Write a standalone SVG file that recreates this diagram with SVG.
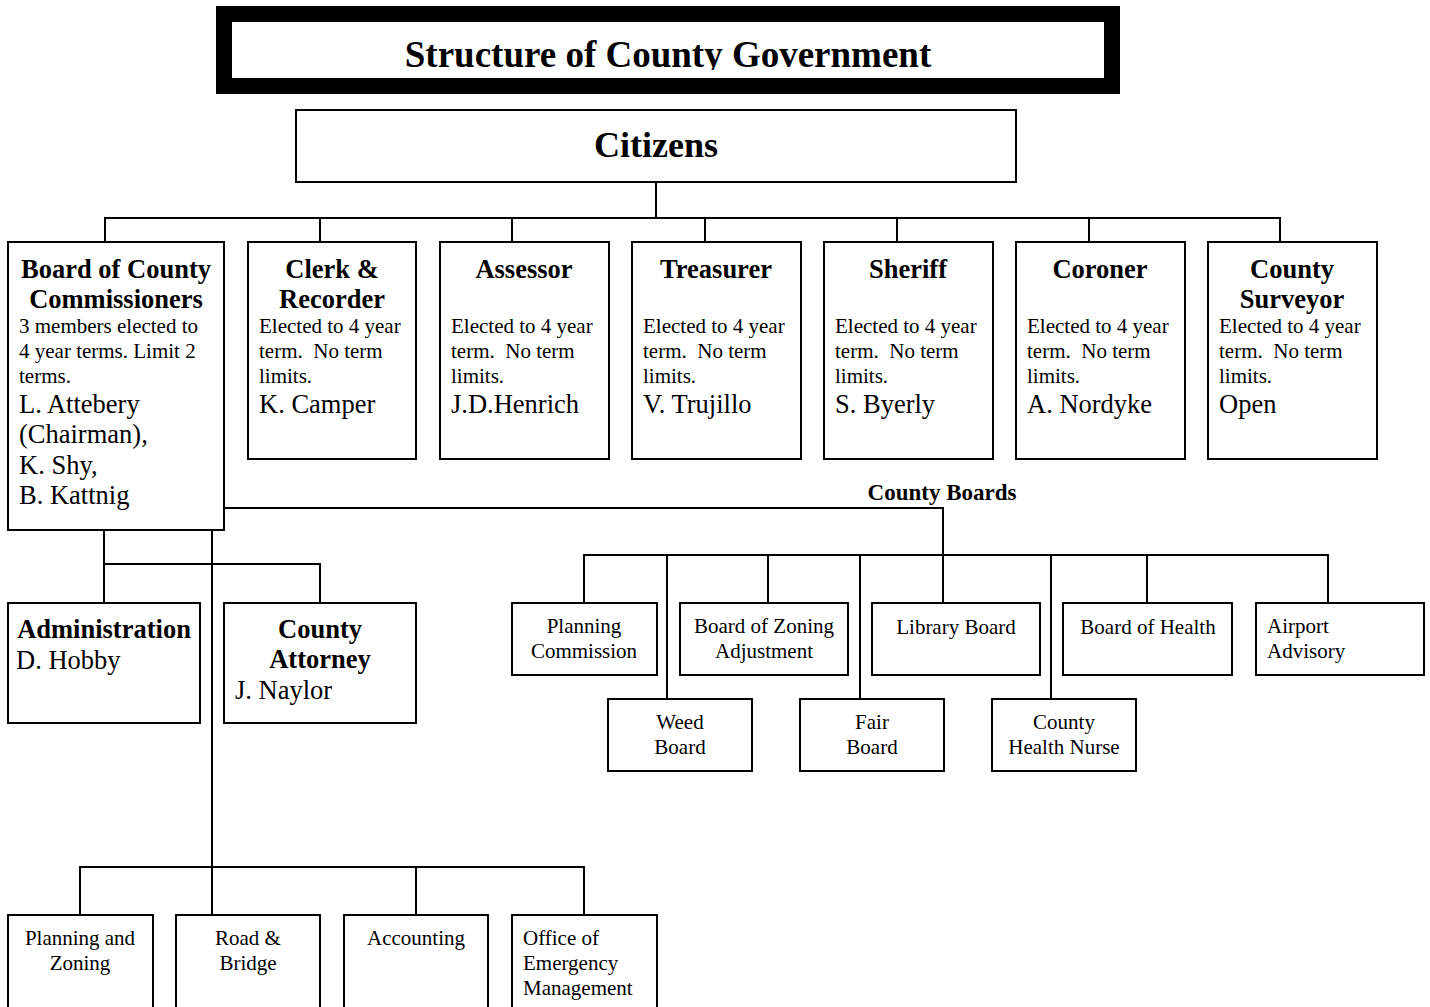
<svg xmlns="http://www.w3.org/2000/svg" width="1430" height="1007" viewBox="0 0 1430 1007">
<style>
.box{fill:#fff;stroke:#000;stroke-width:2}
.ln{fill:none;stroke:#000;stroke-width:2}
text{font-family:"Liberation Serif","Times New Roman",serif;fill:#000;white-space:pre}
.hb{font-weight:bold;font-size:26.5px;text-anchor:middle}
.sm{font-size:21px}
.nm{font-size:26.5px}
.c{text-anchor:middle}
</style>
<defs>
<clipPath id="tclip"><rect x="232" y="22" width="872" height="48"/></clipPath>
</defs>
<rect width="1430" height="1007" fill="#fff"/>
<g id="title">
<text x="668" y="67" clip-path="url(#tclip)" style="font-weight:bold;font-size:37px;text-anchor:middle">Structure of County Government</text>
<rect x="224" y="14" width="888" height="72" fill="none" stroke="#000" stroke-width="16"/>
</g>
<g id="connectors">
<path class="ln" d="M656 182V218"/>
<path class="ln" d="M105 242V218H1280V242M320 218V242M512 218V242M705 218V242M897 218V242M1089 218V242"/>
<path class="ln" d="M224 508H943V603"/>
<path class="ln" d="M584 603V555H1328V603M667 555V699M768 555V603M860 555V699M1051 555V699M1147 555V603"/>
<path class="ln" d="M104 530V603M104 564H320V603"/>
<path class="ln" d="M212 530V915"/>
<path class="ln" d="M80 915V867H584V915M416 867V915"/>
</g>
<g id="citizens">
<rect class="box" x="296" y="110" width="720" height="72"/>
<text x="656" y="157" style="font-weight:bold;font-size:36px;text-anchor:middle">Citizens</text>
</g>
<g id="board">
<rect class="box" x="8" y="242" width="216" height="288"/>
<text class="hb" x="116" y="278">Board of County</text>
<text class="hb" x="116" y="308">Commissioners</text>
<text class="sm" x="19" y="333">3 members elected to</text>
<text class="sm" x="19" y="358">4 year terms. Limit 2</text>
<text class="sm" x="19" y="383">terms.</text>
<text class="nm" x="19" y="413">L. Attebery</text>
<text class="nm" x="19" y="443">(Chairman),</text>
<text class="nm" x="19" y="474">K. Shy,</text>
<text class="nm" x="19" y="504">B. Kattnig</text>
</g>
<g id="clerk">
<rect class="box" x="248" y="242" width="168" height="217"/>
<text class="hb" x="332" y="278">Clerk &amp;</text>
<text class="hb" x="332" y="308">Recorder</text>
<text class="sm" x="259" y="333">Elected to 4 year</text>
<text class="sm" x="259" y="358">term.  No term</text>
<text class="sm" x="259" y="383">limits.</text>
<text class="nm" x="259" y="413">K. Camper</text>
</g>
<g id="assessor">
<rect class="box" x="440" y="242" width="169" height="217"/>
<text class="hb" x="524" y="278">Assessor</text>
<text class="sm" x="451" y="333">Elected to 4 year</text>
<text class="sm" x="451" y="358">term.  No term</text>
<text class="sm" x="451" y="383">limits.</text>
<text class="nm" x="451" y="413">J.D.Henrich</text>
</g>
<g id="treasurer">
<rect class="box" x="632" y="242" width="169" height="217"/>
<text class="hb" x="716" y="278">Treasurer</text>
<text class="sm" x="643" y="333">Elected to 4 year</text>
<text class="sm" x="643" y="358">term.  No term</text>
<text class="sm" x="643" y="383">limits.</text>
<text class="nm" x="643" y="413">V. Trujillo</text>
</g>
<g id="sheriff">
<rect class="box" x="824" y="242" width="169" height="217"/>
<text class="hb" x="908" y="278">Sheriff</text>
<text class="sm" x="835" y="333">Elected to 4 year</text>
<text class="sm" x="835" y="358">term.  No term</text>
<text class="sm" x="835" y="383">limits.</text>
<text class="nm" x="835" y="413">S. Byerly</text>
</g>
<g id="coroner">
<rect class="box" x="1016" y="242" width="169" height="217"/>
<text class="hb" x="1100" y="278">Coroner</text>
<text class="sm" x="1027" y="333">Elected to 4 year</text>
<text class="sm" x="1027" y="358">term.  No term</text>
<text class="sm" x="1027" y="383">limits.</text>
<text class="nm" x="1027" y="413">A. Nordyke</text>
</g>
<g id="surveyor">
<rect class="box" x="1208" y="242" width="169" height="217"/>
<text class="hb" x="1292" y="278">County</text>
<text class="hb" x="1292" y="308">Surveyor</text>
<text class="sm" x="1219" y="333">Elected to 4 year</text>
<text class="sm" x="1219" y="358">term.  No term</text>
<text class="sm" x="1219" y="383">limits.</text>
<text class="nm" x="1219" y="413">Open</text>
</g>
<g id="county-boards-label">
<text x="942" y="500" style="font-weight:bold;font-size:23px;text-anchor:middle">County Boards</text>
</g>
<g id="administration">
<rect class="box" x="8" y="603" width="192" height="120"/>
<text class="hb" x="104" y="638">Administration</text>
<text class="nm" x="16" y="669">D. Hobby</text>
</g>
<g id="attorney">
<rect class="box" x="224" y="603" width="192" height="120"/>
<text class="hb" x="320" y="638">County</text>
<text class="hb" x="320" y="668">Attorney</text>
<text class="nm" x="235" y="699">J. Naylor</text>
</g>
<g id="planning-commission">
<rect class="box" x="512" y="603" width="145" height="72"/>
<text class="sm c" x="584" y="633">Planning</text>
<text class="sm c" x="584" y="658">Commission</text>
</g>
<g id="bza">
<rect class="box" x="680" y="603" width="168" height="72"/>
<text class="sm c" x="764" y="633">Board of Zoning</text>
<text class="sm c" x="764" y="658">Adjustment</text>
</g>
<g id="library">
<rect class="box" x="872" y="603" width="168" height="72"/>
<text class="sm c" x="956" y="634">Library Board</text>
</g>
<g id="health">
<rect class="box" x="1063" y="603" width="169" height="72"/>
<text class="sm c" x="1148" y="634">Board of Health</text>
</g>
<g id="airport">
<rect class="box" x="1256" y="603" width="168" height="72"/>
<text class="sm" x="1267" y="633">Airport</text>
<text class="sm" x="1267" y="658">Advisory</text>
</g>
<g id="weed">
<rect class="box" x="608" y="699" width="144" height="72"/>
<text class="sm c" x="680" y="729">Weed</text>
<text class="sm c" x="680" y="754">Board</text>
</g>
<g id="fair">
<rect class="box" x="800" y="699" width="144" height="72"/>
<text class="sm c" x="872" y="729">Fair</text>
<text class="sm c" x="872" y="754">Board</text>
</g>
<g id="nurse">
<rect class="box" x="992" y="699" width="144" height="72"/>
<text class="sm c" x="1064" y="729">County</text>
<text class="sm c" x="1064" y="754">Health Nurse</text>
</g>
<g id="planning-zoning">
<rect class="box" x="8" y="915" width="145" height="110"/>
<text class="sm c" x="80" y="945">Planning and</text>
<text class="sm c" x="80" y="970">Zoning</text>
</g>
<g id="road-bridge">
<rect class="box" x="176" y="915" width="144" height="110"/>
<text class="sm c" x="248" y="945">Road &amp;</text>
<text class="sm c" x="248" y="970">Bridge</text>
</g>
<g id="accounting">
<rect class="box" x="344" y="915" width="144" height="110"/>
<text class="sm c" x="416" y="945">Accounting</text>
</g>
<g id="oem">
<rect class="box" x="512" y="915" width="145" height="110"/>
<text class="sm" x="523" y="945">Office of</text>
<text class="sm" x="523" y="970">Emergency</text>
<text class="sm" x="523" y="995">Management</text>
</g>
</svg>
